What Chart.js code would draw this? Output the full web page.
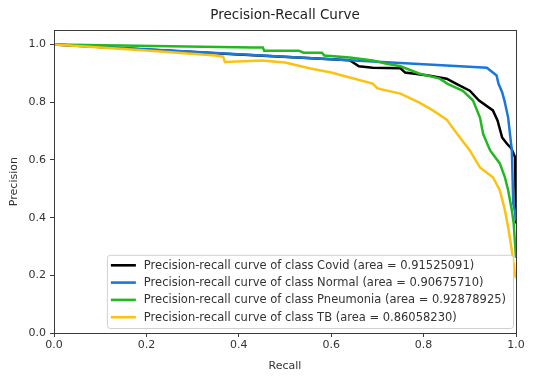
<!DOCTYPE html>
<html>
<head>
<meta charset="utf-8">
<script src="https://cdn.jsdelivr.net/npm/chart.js@4.4.0/dist/chart.umd.min.js"></script>
<style>
    html, body { margin: 0; padding: 0; background: #fff; }
</style>
</head>
<body>
<canvas id="prChart" width="536" height="379"></canvas>
<script>
// values
const classNames = ['Covid', 'Normal', 'Pneumonia', 'TB'];
const areas = ['0.91525091', '0.90675710', '0.92878925', '0.86058230'];
const lineColors = ['#000000', '#1a78d6', '#22b822', '#fcc212'];

const recallCovid = [0, 0.2, 0.4, 0.6, 0.64, 0.66, 0.69, 0.75, 0.76, 0.81, 0.85, 0.87, 0.9, 0.92, 0.95, 0.96, 0.97, 0.98, 0.99, 0.998, 1.0];
const precisionCovid = [1.0, 0.983, 0.966, 0.949, 0.946, 0.925, 0.92, 0.918, 0.903, 0.893, 0.882, 0.865, 0.84, 0.806, 0.772, 0.737, 0.678, 0.657, 0.64, 0.609, 0.38];

const recallNormal = [0, 0.3, 0.6, 0.8, 0.937, 0.958, 0.962, 0.97, 0.975, 0.983, 0.987, 0.991, 0.994, 0.998, 1.0];
const precisionNormal = [1.0, 0.975, 0.949, 0.932, 0.92, 0.893, 0.865, 0.835, 0.806, 0.747, 0.69, 0.633, 0.45, 0.42, 0.39];

const recallPneumonia = [0, 0.43, 0.452, 0.455, 0.53, 0.54, 0.58, 0.585, 0.64, 0.69, 0.72, 0.75, 0.79, 0.835, 0.851, 0.885, 0.907, 0.922, 0.929, 0.944, 0.965, 0.976, 0.983, 0.991, 0.995, 1.0];
const precisionPneumonia = [1.0, 0.99, 0.99, 0.979, 0.979, 0.972, 0.972, 0.962, 0.955, 0.945, 0.934, 0.925, 0.90, 0.882, 0.865, 0.84, 0.806, 0.747, 0.69, 0.633, 0.588, 0.54, 0.495, 0.426, 0.38, 0.26];

const recallTB = [0, 0.2, 0.35, 0.366, 0.37, 0.45, 0.5, 0.53, 0.555, 0.6, 0.64, 0.69, 0.7, 0.75, 0.79, 0.82, 0.85, 0.872, 0.9, 0.922, 0.95, 0.965, 0.976, 0.983, 0.991, 0.998, 1.0];
const precisionTB = [1.0, 0.98, 0.962, 0.958, 0.94, 0.945, 0.938, 0.927, 0.917, 0.903, 0.886, 0.865, 0.848, 0.83, 0.80, 0.772, 0.74, 0.692, 0.633, 0.574, 0.54, 0.495, 0.426, 0.367, 0.287, 0.2, 0.19];

const xTicks = [0, 0.2, 0.4, 0.6, 0.8, 1.0];
const yTicks = [0, 0.2, 0.4, 0.6, 0.8, 1.0];

const recalls = [recallCovid, recallNormal, recallPneumonia, recallTB];
const precisions = [precisionCovid, precisionNormal, precisionPneumonia, precisionTB];

const FONT = 'DejaVu Sans';
const TEXT = '#333333';
const SPINE = '#3a3a3a';

// matplotlib draws the four spines, chart.js only two
const framePlugin = {
    id: 'frame',
    afterDatasetsDraw(chart) {
        const a = chart.chartArea;
        const ctx = chart.ctx;
        ctx.save();
        ctx.strokeStyle = SPINE;
        ctx.lineWidth = 1;
        ctx.strokeRect(Math.round(a.left) + 0.5, Math.round(a.top) + 0.5,
            Math.round(a.right - a.left), Math.round(a.bottom - a.top));
        ctx.restore();
    }
};

// legend box in the lower right corner of the axes
const innerLegend = {
    id: 'innerLegend',
    afterDraw(chart) {
        const a = chart.chartArea;
        const ctx = chart.ctx;
        const rowH = 17.3;
        const sets = chart.data.datasets;
        ctx.save();
        ctx.font = '11.5px "' + FONT + '"';
        let textW = 0;
        sets.forEach(ds => { textW = Math.max(textW, ctx.measureText(ds.label).width); });
        const boxW = 37 + textW + 7;
        const boxH = rowH * sets.length + 4;
        const right = a.right - 3;
        const bottom = a.bottom - 5;
        const left = right - boxW;
        const top = bottom - boxH;

        ctx.beginPath();
        ctx.roundRect(left + 0.5, top + 0.5, boxW, boxH, 3);
        ctx.fillStyle = 'rgba(255,255,255,0.85)';
        ctx.fill();
        ctx.strokeStyle = '#d0d0d0';
        ctx.lineWidth = 1;
        ctx.stroke();

        sets.forEach((ds, i) => {
            const cy = top + 10.5 + i * rowH;
            ctx.beginPath();
            ctx.moveTo(left + 4, cy);
            ctx.lineTo(left + 29, cy);
            ctx.strokeStyle = ds.borderColor;
            ctx.lineWidth = 2.6;
            ctx.stroke();
            ctx.fillStyle = TEXT;
            ctx.textBaseline = 'middle';
            ctx.textAlign = 'left';
            ctx.fillText(ds.label, left + 37, cy + 0.5);
        });
        ctx.restore();
    }
};

const datasets = classNames.map((name, i) => ({
    label: `Precision-recall curve of class ${name} (area = ${areas[i]})`,
    data: recalls[i].map((r, j) => ({ x: r, y: precisions[i][j] })),
    borderColor: lineColors[i],
    backgroundColor: lineColors[i],
    borderWidth: 2.5,
    pointRadius: 0,
    tension: 0,
    fill: false,
    order: classNames.length - i
}));

new Chart(document.getElementById('prChart'), {
    type: 'line',
    data: { datasets: datasets },
    plugins: [framePlugin, innerLegend],
    options: {
        responsive: false,
        animation: false,
        layout: { padding: { left: 0, right: 20, top: 0, bottom: 0 } },
        plugins: {
            legend: { display: false },
            tooltip: { enabled: false },
            title: {
                display: true,
                text: 'Precision-Recall Curve',
                fullSize: false,
                color: '#222',
                font: { family: FONT, size: 13.5, weight: 'normal' },
                padding: { top: 7, bottom: 7 }
            }
        },
        scales: {
            x: {
                type: 'linear',
                min: 0,
                max: 1,
                afterBuildTicks: s => { s.ticks = xTicks.map(v => ({ value: v })); },
                afterFit: s => { s.height = 46; },
                ticks: {
                    callback: v => v.toFixed(1),
                    color: TEXT,
                    font: { family: FONT, size: 11 },
                    padding: 2,
                    maxRotation: 0
                },
                grid: { drawOnChartArea: false, drawTicks: true, tickLength: 4, tickColor: SPINE },
                border: { display: true, color: SPINE },
                title: {
                    display: true,
                    text: 'Recall',
                    color: TEXT,
                    font: { family: FONT, size: 11 },
                    padding: { top: 0, bottom: 6.4 }
                }
            },
            y: {
                type: 'linear',
                min: 0,
                max: 1.05,
                afterBuildTicks: s => { s.ticks = yTicks.map(v => ({ value: v })); },
                afterFit: s => { s.width = 54; },
                ticks: {
                    callback: v => v.toFixed(1),
                    color: TEXT,
                    font: { family: FONT, size: 11 },
                    padding: 4
                },
                grid: { drawOnChartArea: false, drawTicks: true, tickLength: 4, tickColor: SPINE },
                border: { display: true, color: SPINE },
                title: {
                    display: true,
                    text: 'Precision',
                    color: TEXT,
                    font: { family: FONT, size: 11 },
                    padding: { top: 7.4, bottom: 0 }
                }
            }
        }
    }
});
</script>
</body>
</html>
